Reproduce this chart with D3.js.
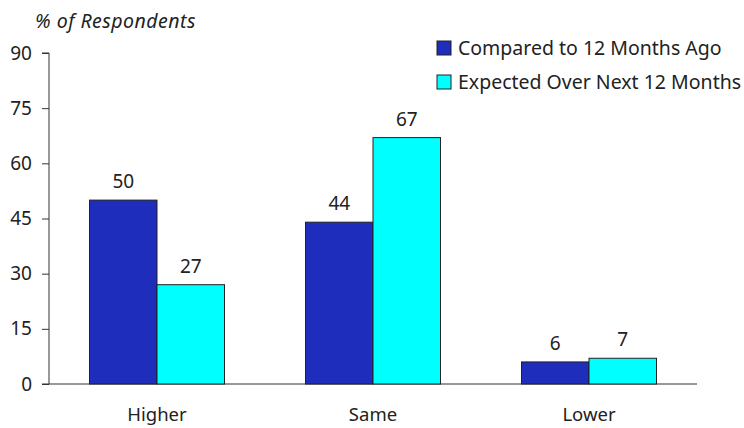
<!DOCTYPE html>
<html>
<head>
<meta charset="utf-8">
<script src="https://cdn.jsdelivr.net/npm/d3@7"></script>
<style>
  body { margin: 0; background: #fff; }
  text { font-family: "Noto Sans", "Open Sans", sans-serif; fill: #222; }
</style>
</head>
<body>
<svg id="chart" width="744" height="428"></svg>
<script>
// chart data
var categories = ["Higher", "Same", "Lower"];
var seriesNames = ["Compared to 12 Months Ago", "Expected Over Next 12 Months"];
var compared = [50, 44, 6];
var expected = [27, 67, 7];
var yTicks = [0, 15, 30, 45, 60, 75, 90];
var colors = ["#1f2dbd", "#00ffff"];

var svg = d3.select("#chart");

// plot edges
var plotLeft = 49, plotRight = 697, plotTop = 53, plotBottom = 384;

var x = d3.scaleBand()
  .domain(categories)
  .range([plotLeft, plotRight])
  .paddingInner(0.375)
  .paddingOuter(0.1875);

var x1 = d3.scaleBand()
  .domain(d3.range(seriesNames.length))
  .range([0, x.bandwidth()]);

var y = d3.scaleLinear().domain([0, 90]).range([plotBottom, plotTop]);

// y axis
var yAxis = svg.append("g")
  .attr("transform", "translate(" + plotLeft + ",0)")
  .call(d3.axisLeft(y).tickValues(yTicks).tickSize(7).tickPadding(10));
yAxis.select(".domain").attr("stroke", "#333")
  .attr("d", "M-7," + plotTop + "H0V" + plotBottom + "H-7");
yAxis.selectAll(".tick line").attr("stroke", "#333");
yAxis.selectAll(".tick text")
  .style("font-size", "19px")
  .style("font-family", "'Noto Sans', sans-serif")
  .attr("fill", "#222");

// x axis line
svg.append("line")
  .attr("x1", plotLeft).attr("x2", plotRight)
  .attr("y1", plotBottom).attr("y2", plotBottom)
  .attr("stroke", "#333");

// bars
var rows = categories.map(function(c, i){ return {cat: c, vals: [compared[i], expected[i]]}; });

var groups = svg.selectAll("g.grp")
  .data(rows)
  .enter().append("g")
  .attr("class", "grp")
  .attr("transform", function(d){ return "translate(" + x(d.cat) + ",0)"; });

groups.selectAll("rect")
  .data(function(d){ return d.vals; })
  .enter().append("rect")
  .attr("x", function(d, i){ return x1(i); })
  .attr("y", function(d){ return y(d); })
  .attr("width", x1.bandwidth())
  .attr("height", function(d){ return y(0) - y(d); })
  .attr("fill", function(d, i){ return colors[i]; })
  .attr("stroke", "#222")
  .attr("stroke-width", 1);

groups.selectAll("text.val")
  .data(function(d){ return d.vals; })
  .enter().append("text")
  .attr("class", "val")
  .attr("x", function(d, i){ return x1(i) + x1.bandwidth() / 2; })
  .attr("y", function(d){ return y(d) - 12; })
  .attr("text-anchor", "middle")
  .style("font-size", "19px")
  .text(function(d){ return d; });

// category labels
svg.selectAll("text.cat")
  .data(categories)
  .enter().append("text")
  .attr("class", "cat")
  .attr("x", function(d){ return x(d) + x.bandwidth() / 2; })
  .attr("y", 421)
  .attr("text-anchor", "middle")
  .style("font-size", "18.5px")
  .text(function(d){ return d; });

// axis title
svg.append("text")
  .attr("x", 35).attr("y", 28)
  .style("font-size", "19.5px")
  .style("font-style", "italic")
  .style("letter-spacing", "0.5px")
  .text("% of Respondents");

// legend
var legend = svg.selectAll("g.leg")
  .data(seriesNames)
  .enter().append("g")
  .attr("class", "leg")
  .attr("transform", function(d, i){ return "translate(437," + (41 + i * 34) + ")"; });

legend.append("rect")
  .attr("width", 14).attr("height", 14)
  .attr("fill", function(d, i){ return colors[i]; })
  .attr("stroke", "#222");

legend.append("text")
  .attr("x", 21).attr("y", 14)
  .style("font-size", "19.5px")
  .text(function(d){ return d; });
</script>
</body>
</html>
